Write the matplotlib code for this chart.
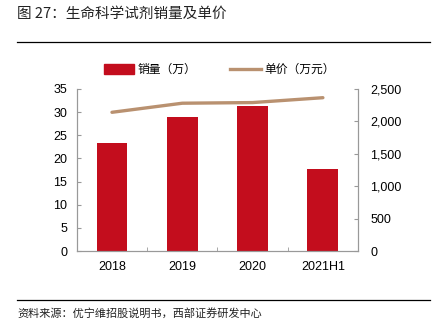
import matplotlib.pyplot as plt
from matplotlib.ticker import FuncFormatter, FixedLocator

plt.rcParams['font.family'] = ['Liberation Sans', 'Noto Sans CJK SC', 'DejaVu Sans']

years = ['2018', '2019', '2020', '2021H1']
sales = [23.4, 28.9, 31.3, 17.7]          # 销量（万）
price = [2140, 2280, 2290, 2365]          # 单价（万元）

bar_color = '#C30D1D'
line_color = '#B99170'
spine_color = '#999999'
cjk = ['Noto Sans CJK SC', 'DejaVu Sans']

fig = plt.figure(figsize=(4.34, 3.27), dpi=100)
ax = fig.add_axes([0.177, 0.232, 0.648, 0.496])
ax2 = ax.twinx()

x = list(range(len(years)))
ax.bar(x, sales, width=0.44, color=bar_color, zorder=2)
ax2.plot(x, price, color=line_color, lw=2.4, solid_capstyle='round', zorder=3)

ax.set_xlim(-0.5, 3.5)
ax.set_ylim(0, 35)
ax.set_yticks(range(0, 36, 5))
ax2.set_ylim(0, 2500)
ax2.set_yticks(range(0, 2501, 500))
ax2.yaxis.set_major_formatter(FuncFormatter(lambda v, p: f'{int(v):,}'))

ax.set_xticks(x)
ax.set_xticklabels(years)
ax.xaxis.set_minor_locator(FixedLocator([0.5, 1.5, 2.5]))
ax.tick_params(axis='x', which='major', length=0, pad=7, labelsize=9)
ax.tick_params(axis='x', which='minor', direction='in', length=3, color=spine_color)
ax.tick_params(axis='y', direction='in', length=3, color=spine_color, pad=7, labelsize=9)
ax2.tick_params(axis='y', direction='in', length=3, color=spine_color, pad=9, labelsize=9)

for a in (ax, ax2):
    a.spines['top'].set_visible(False)
    for s in ('left', 'right', 'bottom'):
        a.spines[s].set_color(spine_color)
        a.spines[s].set_linewidth(0.8)

# 图例
h1 = plt.Rectangle((0, 0), 1, 1, color=bar_color)
h2, = ax2.plot([], [], color=line_color, lw=2.4)
fig.legend([h1, h2], ['销量（万）', '单价（万元）'], loc='center', bbox_to_anchor=(0.505, 0.787),
           ncol=2, frameon=False, prop={'family': cjk, 'size': 8.5},
           handlelength=2.6, handleheight=0.9, columnspacing=2.8, handletextpad=0.3)

# 标题与来源
fig.text(0.04, 0.957, '图 27：生命科学试剂销量及单价', family=cjk, fontsize=10.5, va='center', color='#222222')
fig.add_artist(plt.Line2D([0.04, 0.99], [0.873, 0.873], color='black', lw=0.9))
fig.add_artist(plt.Line2D([0.04, 0.99], [0.083, 0.083], color='black', lw=0.9))
fig.text(0.04, 0.042, '资料来源：优宁维招股说明书，西部证券研发中心', family=cjk, fontsize=8, va='center', color='#222222')

fig.savefig('out.png', dpi=100)
